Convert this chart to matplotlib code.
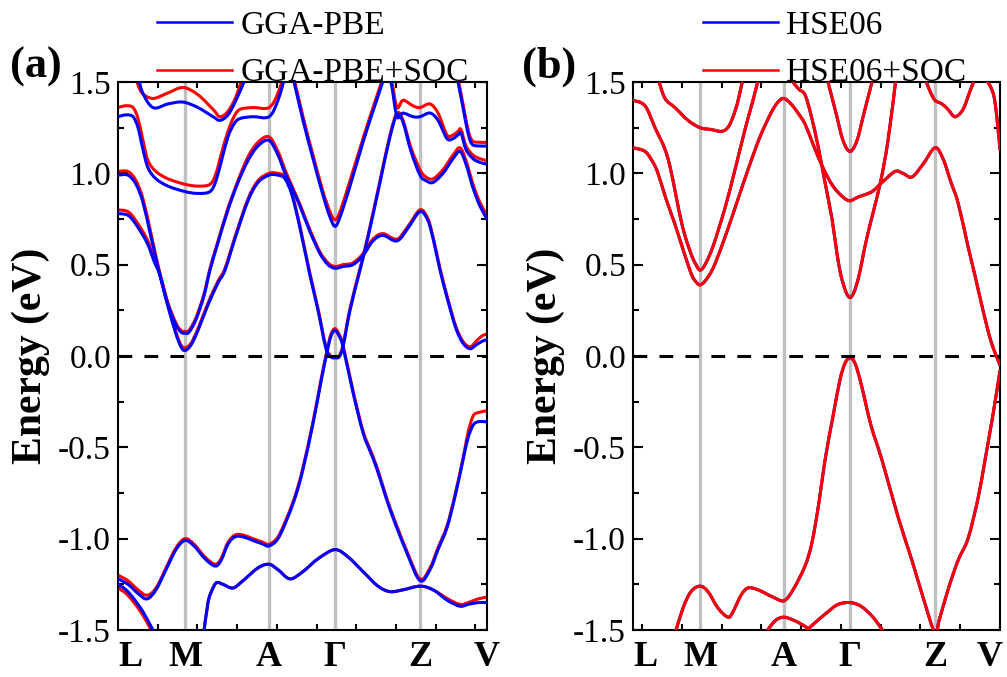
import numpy as np
import matplotlib.pyplot as plt
from matplotlib.ticker import MultipleLocator
from matplotlib.path import Path
from matplotlib.patches import PathPatch
from matplotlib.transforms import ScaledTranslation

plt.rcParams['font.family'] = ['Liberation Serif', 'DejaVu Serif']
plt.rcParams['axes.unicode_minus'] = False

# high-symmetry points (distance along the k-path, arbitrary units)
kpt_labels = ['L', 'M', 'A', 'Γ', 'Z', 'V']
kpt_a = [0, 67, 151, 217, 302, 369]
kpt_b = [0, 67, 151, 217, 302, 367]

# ---------------- panel (a): GGA-PBE / GGA-PBE+SOC ----------------
a_k = [
    [19, 24, 35, 50, 65, 80, 95, 102, 110, 118, 126],
    [0, 8, 15, 20, 25, 30, 38, 50, 67, 80, 92, 98, 104, 110, 116, 122, 135, 151, 160, 168],
    [172, 176, 185, 195, 205, 212, 217, 222, 232, 245, 255, 266],
    [0, 10, 18, 25, 33, 42, 50, 58, 63, 67, 71, 78, 86, 92, 100, 110, 120, 130, 140, 151,
     160, 167, 174, 182, 192, 202, 210, 217, 225, 235, 245, 255, 265, 279, 290, 302,
     310, 316, 322, 330, 338, 345, 352, 358, 364, 369],
    [0, 10, 18, 29, 36, 42, 50, 58, 63, 67, 73, 80, 90, 100, 107, 118, 130, 140, 151,
     160, 167, 174, 182, 192, 200, 208, 213, 217, 221, 225, 232, 242, 250, 262, 272, 279,
     285, 293, 302, 308, 315, 325, 335, 342, 348, 355, 362, 369],
    [270, 274, 279, 285, 295, 302, 312, 320, 329, 335, 340, 343, 348, 355, 362, 369],
    [337, 340, 345, 350, 354, 360, 369],
    [0, 10, 20, 29, 38, 48, 58, 67, 76, 87, 97, 103, 110, 117, 125, 135, 145, 151, 160, 170,
     178, 185, 195, 203, 209, 213, 217, 221, 225, 235, 245, 252, 259, 272, 289, 302, 312,
     320, 329, 337, 345, 350, 355, 360, 369],
    [85, 90, 95, 99, 105, 115, 125, 140, 151, 160, 172, 185, 200, 217, 230, 245, 260, 272,
     285, 302, 315, 330, 342, 350, 360, 369],
    [0, 8, 16, 25, 33, 42],
]
a_pbe = [
    [1.57, 1.45, 1.36, 1.38, 1.39, 1.36, 1.31, 1.29, 1.32, 1.40, 1.50],
    [1.31, 1.32, 1.31, 1.25, 1.13, 1.03, 0.97, 0.93, 0.90, 0.89, 0.90, 0.96, 1.08, 1.20,
     1.27, 1.30, 1.31, 1.31, 1.40, 1.55],
    [1.58, 1.50, 1.29, 1.08, 0.88, 0.76, 0.71, 0.76, 0.93, 1.17, 1.34, 1.52],
    [0.99, 0.99, 0.94, 0.84, 0.65, 0.44, 0.28, 0.17, 0.13, 0.125, 0.13, 0.20, 0.33, 0.47,
     0.62, 0.80, 0.95, 1.07, 1.15, 1.18, 1.10, 1.00, 0.92, 0.82, 0.68, 0.56, 0.50, 0.48,
     0.49, 0.50, 0.55, 0.63, 0.66, 0.63, 0.70, 0.79, 0.74, 0.62, 0.47, 0.30, 0.15, 0.07,
     0.04, 0.06, 0.08, 0.09],
    [0.78, 0.77, 0.72, 0.62, 0.52, 0.44, 0.27, 0.12, 0.05, 0.03, 0.06, 0.14, 0.28, 0.40,
     0.47, 0.66, 0.85, 0.95, 0.99, 0.99, 0.97, 0.88, 0.70, 0.44, 0.25, 0.04, -0.005, -0.01,
     -0.005, 0.05, 0.25, 0.47, 0.65, 0.95, 1.20, 1.32, 1.28, 1.12, 0.99, 0.96, 0.95, 1.00,
     1.08, 1.12, 1.05, 0.92, 0.82, 0.75],
    [1.58, 1.47, 1.31, 1.33, 1.31, 1.31, 1.33, 1.29, 1.19, 1.19, 1.21, 1.22, 1.13, 1.08,
     1.06, 1.05],
    [1.58, 1.50, 1.36, 1.22, 1.16, 1.15, 1.15],
    [-1.22, -1.25, -1.30, -1.33, -1.28, -1.17, -1.06, -1.01, -1.04, -1.11, -1.15, -1.12,
     -1.03, -0.99, -0.99, -1.01, -1.03, -1.04, -1.00, -0.88, -0.76, -0.62, -0.37, -0.14,
     0.02, 0.11, 0.14, 0.11, 0.05, -0.20, -0.42, -0.52, -0.62, -0.84, -1.08, -1.23, -1.17,
     -1.06, -0.94, -0.77, -0.57, -0.45, -0.38, -0.36, -0.36],
    [-1.55, -1.35, -1.27, -1.24, -1.25, -1.27, -1.23, -1.16, -1.14, -1.17, -1.22, -1.18,
     -1.11, -1.06, -1.10, -1.18, -1.26, -1.29, -1.28, -1.26, -1.28, -1.34, -1.37, -1.36,
     -1.35, -1.35],
    [-1.25, -1.28, -1.33, -1.40, -1.48, -1.57],
]
a_soc = [
    [1.50, 1.44, 1.41, 1.44, 1.47, 1.43, 1.35, 1.31, 1.34, 1.42, 1.55],
    [1.36, 1.37, 1.36, 1.30, 1.18, 1.07, 1.01, 0.97, 0.94, 0.93, 0.94, 1.00, 1.12, 1.23,
     1.31, 1.35, 1.36, 1.36, 1.44, 1.58],
    [1.60, 1.52, 1.31, 1.10, 0.90, 0.79, 0.745, 0.79, 0.96, 1.19, 1.36, 1.54],
    [1.01, 1.01, 0.96, 0.86, 0.67, 0.45, 0.29, 0.18, 0.14, 0.135, 0.14, 0.21, 0.34, 0.48,
     0.63, 0.81, 0.96, 1.09, 1.17, 1.20, 1.12, 1.02, 0.93, 0.83, 0.69, 0.57, 0.51, 0.49,
     0.50, 0.51, 0.56, 0.64, 0.67, 0.64, 0.71, 0.80, 0.75, 0.63, 0.48, 0.31, 0.16, 0.08,
     0.05, 0.08, 0.11, 0.12],
    [0.80, 0.79, 0.74, 0.64, 0.53, 0.45, 0.28, 0.13, 0.06, 0.045, 0.07, 0.15, 0.29, 0.41,
     0.48, 0.67, 0.86, 0.96, 1.00, 1.00, 0.98, 0.89, 0.71, 0.45, 0.26, 0.05, 0.0, -0.005,
     0.0, 0.06, 0.26, 0.48, 0.66, 0.96, 1.21, 1.33, 1.29, 1.14, 1.02, 0.98, 0.97, 1.02,
     1.10, 1.14, 1.07, 0.94, 0.84, 0.77],
    [1.60, 1.50, 1.36, 1.40, 1.37, 1.36, 1.38, 1.33, 1.21, 1.21, 1.23, 1.24, 1.15, 1.10,
     1.08, 1.07],
    [1.60, 1.52, 1.38, 1.24, 1.18, 1.17, 1.17],
    [-1.20, -1.23, -1.28, -1.31, -1.27, -1.16, -1.05, -1.00, -1.03, -1.10, -1.14, -1.11,
     -1.02, -0.98, -0.98, -1.00, -1.02, -1.03, -0.99, -0.87, -0.75, -0.61, -0.36, -0.13,
     0.03, 0.12, 0.15, 0.12, 0.06, -0.19, -0.41, -0.51, -0.61, -0.83, -1.07, -1.22, -1.16,
     -1.05, -0.93, -0.76, -0.56, -0.42, -0.33, -0.31, -0.30],
    [-1.55, -1.35, -1.27, -1.24, -1.25, -1.27, -1.23, -1.16, -1.14, -1.17, -1.22, -1.18,
     -1.11, -1.06, -1.10, -1.18, -1.26, -1.29, -1.28, -1.26, -1.28, -1.33, -1.36, -1.35,
     -1.33, -1.32],
    [-1.27, -1.30, -1.35, -1.42, -1.50, -1.59],
]

# ---------------- panel (b): HSE06 / HSE06+SOC ----------------
b_k = [
    [0, 12, 22, 35, 49, 58, 63, 67, 72, 80, 92, 102, 112, 120, 126],
    [0, 12, 20, 25, 33, 42, 52, 59, 64, 67, 72, 80, 90, 102, 115, 127, 138, 145, 151, 158,
     165, 172, 180, 190, 200, 210, 217, 225, 239, 249, 262, 270, 279, 290, 302, 310, 318,
     325, 335, 342, 350, 358, 367],
    [25, 32, 42, 55, 67, 78, 89, 96, 102, 106, 110],
    [155, 160, 166, 172, 178, 185, 192, 199, 204, 208, 213, 217, 221, 226, 234, 247, 255, 263],
    [195, 203, 210, 217, 224, 231, 239],
    [292, 297, 302, 309, 315, 322, 330, 337, 342],
    [352, 357, 361, 364, 367],
    [42, 50, 58, 67, 75, 85, 95, 100, 108, 115, 125, 140, 151, 160, 172, 179, 186, 192, 200,
     207, 212, 217, 222, 228, 238, 249, 265, 279, 290, 302, 306, 315, 325, 335, 345, 352,
     360, 367],
    [170, 182, 195, 205, 217, 228, 240, 252],
    [132, 142, 151, 162, 172, 182],
]
b_hse = [
    [1.40, 1.37, 1.25, 1.08, 0.72, 0.56, 0.50, 0.47, 0.50, 0.60, 0.81, 1.02, 1.24, 1.40, 1.53],
    [1.14, 1.12, 1.06, 1.00, 0.86, 0.72, 0.55, 0.44, 0.40, 0.39, 0.41, 0.48, 0.62, 0.81,
     1.02, 1.20, 1.33, 1.39, 1.41, 1.38, 1.33, 1.27, 1.16, 1.03, 0.93, 0.87, 0.85, 0.87,
     0.90, 0.95, 1.01, 1.00, 0.98, 1.05, 1.14, 1.08, 0.95, 0.84, 0.60, 0.44, 0.25, 0.08,
     -0.05],
    [1.52, 1.41, 1.36, 1.29, 1.25, 1.24, 1.23, 1.26, 1.34, 1.42, 1.52],
    [1.55, 1.50, 1.46, 1.43, 1.32, 1.15, 0.95, 0.75, 0.56, 0.44, 0.35, 0.32, 0.35, 0.44,
     0.65, 0.94, 1.18, 1.52],
    [1.50, 1.33, 1.18, 1.12, 1.18, 1.33, 1.50],
    [1.52, 1.45, 1.40, 1.38, 1.35, 1.31, 1.35, 1.45, 1.52],
    [1.52, 1.48, 1.42, 1.30, 1.13],
    [-1.52, -1.38, -1.29, -1.26, -1.29, -1.38, -1.43, -1.40, -1.31, -1.27, -1.28, -1.32,
     -1.34, -1.28, -1.15, -1.02, -0.80, -0.57, -0.33, -0.13, -0.04, -0.01, -0.04, -0.15,
     -0.38, -0.57, -0.88, -1.12, -1.32, -1.52, -1.45, -1.28, -1.12, -1.00, -0.78, -0.57,
     -0.32, -0.08],
    [-1.52, -1.46, -1.40, -1.36, -1.35, -1.37, -1.43, -1.52],
    [-1.52, -1.45, -1.43, -1.45, -1.48, -1.52],
]
# HSE06 and HSE06+SOC coincide within the line width in the figure
b_soc = b_hse

BLUE = '#0000ff'
RED = '#ff0000'
FS = 24
W, H = 1007, 677

fig = plt.figure(figsize=(W / 100, H / 100), dpi=100)


def smooth_band(ax, k, e, color, z):
    # draw a band as a smooth (Catmull-Rom style) bezier path through the read points
    p = np.column_stack([k, e]).astype(float)
    n = len(p)
    verts = [p[0]]
    codes = [Path.MOVETO]
    for i in range(n - 1):
        p0 = p[i - 1] if i > 0 else p[i]
        p3 = p[i + 2] if i + 2 < n else p[i + 1]
        c1 = p[i] + (p[i + 1] - p0) / 6
        c2 = p[i + 1] - (p3 - p[i]) / 6
        verts += [c1, c2, p[i + 1]]
        codes += [Path.CURVE4] * 3
    ax.add_patch(PathPatch(Path(verts, codes), fill=False, edgecolor=color, lw=2.2,
                           zorder=z, capstyle='round', joinstyle='round'))


def setup(ax, kpts, tick_offset):
    ax.set_xlim(kpts[0], kpts[-1])
    ax.set_ylim(-1.5, 1.5)
    for k in kpts[1:-1]:
        ax.axvline(k, color='#c0c0c0', lw=2.4, zorder=1)
    ax.axhline(0, color='black', lw=2.2, ls=(0, (4.5, 4)), zorder=4)
    ax.set_xticks(kpts)
    ax.set_xticklabels(kpt_labels, fontsize=FS + 2, fontweight='bold')
    ax.xaxis.set_minor_locator(MultipleLocator(39.7, offset=tick_offset))
    ax.yaxis.set_minor_locator(MultipleLocator(0.25))
    ax.set_yticks(np.arange(-1.5, 1.51, 0.5))
    ax.set_yticklabels(['%.1f' % v for v in np.arange(-1.5, 1.51, 0.5)], fontsize=FS)
    ax.tick_params(axis='x', which='major', length=0, pad=8)
    ax.tick_params(axis='x', which='minor', direction='in', length=4, width=1.5,
                   top=True, bottom=True)
    ax.tick_params(axis='y', which='major', direction='in', length=7, width=1.5,
                   left=True, right=True, pad=5)
    ax.tick_params(axis='y', which='minor', direction='in', length=4, width=1.5,
                   left=True, right=True)
    for s in ax.spines.values():
        s.set_linewidth(1.5)
    ax.set_ylabel('Energy (eV)', fontsize=30, fontweight='bold')
    ax.yaxis.set_label_coords(-0.185, 0.5)
    # nudge the first label like the original
    labs = ax.get_xticklabels()
    labs[0].set_transform(labs[0].get_transform() + ScaledTranslation(0.12, 0, fig.dpi_scale_trans))


def add_legend(ax, names, x0):
    h1, = ax.plot([], [], color=BLUE, lw=1.8)
    h2, = ax.plot([], [], color=RED, lw=1.8)
    ax.legend([h1, h2], names, loc='upper left',
              bbox_to_anchor=(x0 / W, 1 - 10 / H), bbox_transform=fig.transFigure,
              frameon=False, fontsize=FS, handlelength=2.25, handletextpad=0.25,
              labelspacing=0.52, borderpad=0, borderaxespad=0)


# panel (a)
ax1 = fig.add_axes([118 / W, 47 / H, 369 / W, 548 / H])
setup(ax1, kpt_a, 0)
for k, e in zip(a_k, a_soc):
    smooth_band(ax1, k, e, RED, 2)
for k, e in zip(a_k, a_pbe):
    smooth_band(ax1, k, e, BLUE, 3)
add_legend(ax1, ['GGA-PBE', 'GGA-PBE+SOC'], 157)
fig.text(10 / W, 1 - 78 / H, '(a)', fontsize=32, fontweight='bold', va='baseline')

# panel (b)
ax2 = fig.add_axes([633 / W, 47 / H, 367 / W, 548 / H])
setup(ax2, kpt_b, 9.3)
for k, e in zip(b_k, b_hse):
    smooth_band(ax2, k, e, BLUE, 2)
for k, e in zip(b_k, b_soc):
    smooth_band(ax2, k, e, RED, 3)
add_legend(ax2, ['HSE06', 'HSE06+SOC'], 703)
fig.text(522 / W, 1 - 78 / H, '(b)', fontsize=32, fontweight='bold', va='baseline')
lab = ax2.get_xticklabels()[-1]
lab.set_transform(lab.get_transform() + ScaledTranslation(-0.10, 0, fig.dpi_scale_trans))

fig.savefig('out.png', dpi=100)
